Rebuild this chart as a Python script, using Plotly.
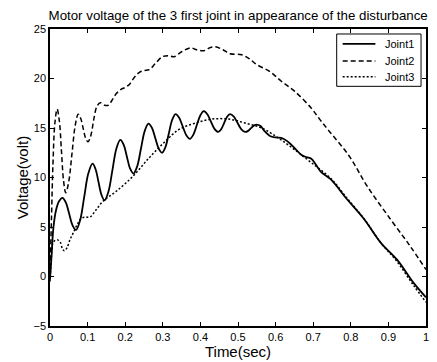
import plotly.graph_objects as go

t1 = [0, 0.004, 0.009, 0.016, 0.024, 0.033, 0.042, 0.051, 0.06, 0.069, 0.08, 0.091, 0.102, 0.113,
      0.121, 0.129, 0.137, 0.145, 0.1555, 0.166, 0.1765, 0.187, 0.196, 0.2045, 0.213, 0.222,
      0.232, 0.242, 0.252, 0.262, 0.271, 0.28, 0.289, 0.298, 0.307, 0.316, 0.325, 0.334,
      0.3435, 0.353, 0.3625, 0.372, 0.381, 0.3905, 0.4, 0.409, 0.4185, 0.428, 0.4375, 0.447,
      0.455, 0.463, 0.471, 0.479, 0.489, 0.499, 0.509, 0.519, 0.527, 0.5345, 0.542, 0.55,
      0.56, 0.57, 0.585, 0.6, 0.615, 0.63, 0.642, 0.655, 0.668, 0.682, 0.695, 0.707, 0.72,
      0.747, 0.79, 0.836, 0.88, 0.923, 0.967, 1.0]
joint1 = [-0.3, 2.0, 4.9, 6.7, 7.6, 7.95, 7.48, 6.33, 5.17, 4.7, 5.68, 8.05, 10.42, 11.4,
          10.86, 9.55, 8.24, 7.7, 8.59, 10.75, 12.91, 13.8, 13.3, 12.1, 10.9, 10.4,
          11.14, 12.93, 14.71, 15.45, 15.02, 13.98, 12.93, 12.5, 13.07, 14.45, 15.83, 16.4,
          16.03, 15.15, 14.27, 13.9, 14.31, 15.3, 16.29, 16.7, 16.39, 15.65, 14.91, 14.6,
          14.86, 15.5, 16.14, 16.4, 16.14, 15.5, 14.86, 14.6, 14.71, 14.98, 15.24, 15.35,
          15.2, 14.7, 14.2, 14.05, 14.0, 13.7, 13.3, 12.8, 12.3, 12.05, 11.9, 11.3, 10.6,
          9.8, 7.8, 5.76, 3.4, 1.7, -0.64, -2.1]

t2 = [0, 0.004, 0.008, 0.013, 0.019, 0.025, 0.0305, 0.036, 0.042, 0.05, 0.0585, 0.067, 0.075,
      0.0815, 0.088, 0.0945, 0.101, 0.109, 0.117, 0.125, 0.134, 0.145, 0.155, 0.165, 0.177,
      0.189, 0.2, 0.211, 0.224, 0.237, 0.25, 0.264, 0.28, 0.299, 0.315, 0.33, 0.35, 0.374,
      0.39, 0.409, 0.425, 0.44, 0.46, 0.479, 0.51, 0.53, 0.55, 0.585, 0.616, 0.651, 0.695,
      0.717, 0.739, 0.796, 0.844, 0.906, 0.958, 1.0]
joint2 = [0, 6, 11.5, 15.5, 16.9, 15.66, 12.68, 9.69, 8.45, 9.61, 12.43, 15.24, 16.4,
          15.99, 15.0, 14.0, 13.6, 14.3, 16.0, 17.2, 17.55, 17.3, 17.3, 17.8, 18.5,
          18.9, 19.1, 19.4, 20.1, 20.6, 20.8, 20.9, 21.5, 22.2, 22.3, 22.2, 22.7, 23.1,
          22.9, 22.8, 23.1, 23.2, 22.9, 22.5, 22.4, 22.0, 21.4, 20.7, 19.7, 18.7, 17.0,
          15.9, 14.85, 12.15, 9.1, 5.76, 3.06, 0.7]

t3 = [0, 0.003, 0.007, 0.012, 0.02, 0.027, 0.033, 0.038, 0.045, 0.054, 0.062, 0.073, 0.084,
      0.095, 0.106, 0.12, 0.141, 0.176, 0.22, 0.264, 0.308, 0.343, 0.387, 0.431, 0.475,
      0.519, 0.563, 0.607, 0.651, 0.695, 0.747, 0.79, 0.836, 0.88, 0.923, 0.967, 1.0]
joint3 = [-0.5, 1.5, 3.3, 3.6, 3.7, 3.5, 2.8, 2.6, 2.9, 3.8, 4.4, 5.3, 5.9,
          6.0, 6.0, 6.6, 7.6, 8.6, 10.1, 12.0, 13.7, 14.85, 15.5, 15.9, 15.9,
          15.5, 15.0, 14.0, 12.8, 11.5, 9.9, 7.9, 5.8, 3.4, 1.5, -0.9, -2.6]

series_names = ["Joint1", "Joint2", "Joint3"]
x_ticks = [0, 0.1, 0.2, 0.3, 0.4, 0.5, 0.6, 0.7, 0.8, 0.9, 1]
x_ticklabels = ["0", "0.1", "0.2", "0.3", "0.4", "0.5", "0.6", "0.7", "0.8", "0.9", "1"]
y_ticks = [-5, 0, 5, 10, 15, 20, 25]

FONT = "Arial, Liberation Sans, sans-serif"
styles = [dict(width=1.8, dash="solid"),
          dict(width=1.5, dash="5px,3px"),
          dict(width=1.5, dash="2px,2px")]

fig = go.Figure()
for tt, vv, nm, st in zip([t1, t2, t3], [joint1, joint2, joint3], series_names, styles):
    fig.add_trace(go.Scatter(x=tt, y=vv, name=nm, mode="lines", showlegend=False,
                             line=dict(color="black", width=st["width"], dash=st["dash"],
                                       shape="spline", smoothing=1.0)))

# legend box drawn in paper coordinates
shapes = [dict(type="rect", xref="paper", yref="paper", x0=0.7625, x1=0.9868, y0=0.8070, y1=0.9832,
               line=dict(color="black", width=1), fillcolor="white", layer="above")]
annotations = []
row_y = [0.9497, 0.8926, 0.8389]
for nm, st, ry in zip(series_names, styles, row_y):
    shapes.append(dict(type="line", xref="paper", yref="paper", x0=0.7784, x1=0.8654, y0=ry, y1=ry,
                       line=dict(color="black", width=st["width"], dash=st["dash"]), layer="above"))
    annotations.append(dict(xref="paper", yref="paper", x=0.8865, y=ry, text=nm, showarrow=False,
                            xanchor="left", yanchor="middle",
                            font=dict(size=11, family=FONT, color="black")))

fig.update_layout(
    width=437, height=362,
    margin=dict(l=50, r=8, t=29, b=35),
    paper_bgcolor="white", plot_bgcolor="white",
    font=dict(family=FONT, color="black", size=11),
    title=dict(text="Motor voltage of the 3 first joint in appearance of the disturbance",
               x=0.545, xanchor="center", y=0.958, yanchor="middle",
               font=dict(size=13.3, family=FONT, color="black")),
    shapes=shapes, annotations=annotations,
    xaxis=dict(range=[0, 1], tickvals=x_ticks, ticktext=x_ticklabels,
               ticks="inside", ticklen=4, tickcolor="black", showline=True, linecolor="black",
               linewidth=1.5, mirror="ticks", showgrid=False, zeroline=False,
               tickfont=dict(size=11, family=FONT),
               title=dict(text="Time(sec)", font=dict(size=15, family=FONT), standoff=1)),
    yaxis=dict(range=[-5, 25], tickvals=y_ticks,
               ticks="inside", ticklen=4, tickcolor="black", showline=True, linecolor="black",
               linewidth=1.5, mirror="ticks", showgrid=False, zeroline=False,
               tickfont=dict(size=11, family=FONT),
               title=dict(text="Voltage(volt)", font=dict(size=15, family=FONT), standoff=1)),
)

fig.write_html("out.html")
